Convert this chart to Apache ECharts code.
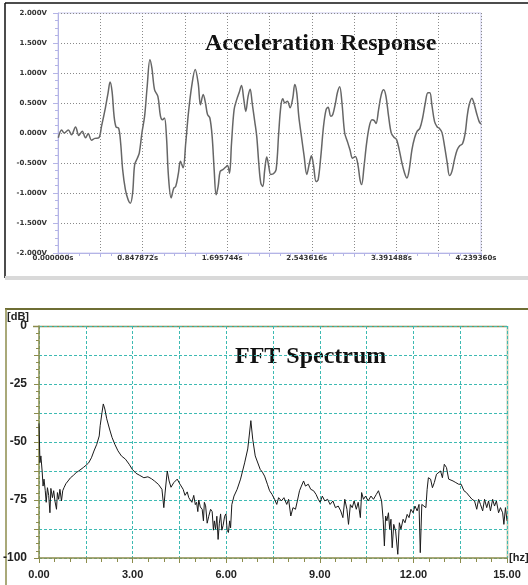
<!DOCTYPE html>
<html>
<head>
<meta charset="utf-8">
<script src="https://cdn.jsdelivr.net/npm/echarts@6/dist/echarts.min.js"></script>
<style>
  body { margin: 0; background: #fff; }
  #chart { position: absolute; left: 0; top: 0; width: 528px; height: 585px; }
</style>
</head>
<body>
<div id="chart"></div>
<script>
// acceleration response
var timeSec = [0.003, 0.037, 0.063, 0.103, 0.136, 0.176, 0.209, 0.243, 0.276, 0.303, 0.336, 0.369, 0.409,
  0.436, 0.475, 0.502, 0.522, 0.542, 0.562, 0.582, 0.608, 0.628, 0.648, 0.675, 0.702, 0.725, 0.748, 0.768,
  0.795, 0.815, 0.841, 0.868, 0.894, 0.921, 0.941, 0.968, 1.001, 1.027, 1.047, 1.067, 1.087, 1.107, 1.134,
  1.160, 1.180, 1.207, 1.227, 1.254, 1.280, 1.307, 1.340, 1.375, 1.405, 1.428, 1.455, 1.478, 1.498, 1.522,
  1.545, 1.565, 1.585, 1.605, 1.625, 1.652, 1.679, 1.699, 1.719, 1.739, 1.765, 1.792, 1.815, 1.839, 1.862,
  1.882, 1.905, 1.926, 1.946, 1.972, 1.992, 2.012, 2.032, 2.052, 2.072, 2.092, 2.113, 2.132, 2.159, 2.186,
  2.212, 2.233, 2.253, 2.273, 2.299, 2.326, 2.353, 2.373, 2.393, 2.413, 2.440, 2.467, 2.493, 2.520, 2.540,
  2.560, 2.587, 2.607, 2.634, 2.661, 2.687, 2.707, 2.734, 2.754, 2.781, 2.800, 2.823, 2.846, 2.873, 2.900,
  2.926, 2.953, 2.980, 3.006, 3.027, 3.043, 3.067, 3.093, 3.120, 3.147, 3.167, 3.187, 3.213, 3.240, 3.264,
  3.287, 3.313, 3.340, 3.367, 3.393, 3.420, 3.447, 3.474, 3.497, 3.520, 3.547, 3.574, 3.600, 3.627, 3.654,
  3.681, 3.707, 3.727, 3.747, 3.774, 3.801, 3.821, 3.848, 3.874, 3.901, 3.924, 3.948, 3.974, 4.001, 4.028,
  4.054, 4.081, 4.101, 4.121, 4.148, 4.168, 4.195, 4.221, 4.239];
var accelV = [-0.08, 0.05, 0.00, 0.05, -0.03, 0.10, -0.04, 0.03, -0.08, -0.01, -0.12, -0.09, -0.08,
  0.11, 0.42, 0.67, 0.85, 0.69, 0.28, 0.10, 0.08, -0.17, -0.61, -0.94, -1.11, -1.17, -1.00, -0.53,
  -0.42, -0.33, 0.00, 0.28, 0.78, 1.22, 1.08, 0.72, 0.61, 0.28, 0.22, 0.25, -0.06, -0.72, -1.08,
  -0.92, -0.89, -0.67, -0.47, -0.58, -0.17, 0.33, 0.78, 1.06, 0.83, 0.47, 0.64, 0.50, 0.31, 0.25,
  -0.06, -0.61, -1.03, -0.89, -0.64, -0.61, -0.57, -0.54, -0.67, -0.17, 0.39, 0.56, 0.67, 0.79, 0.56,
  0.36, 0.61, 0.73, 0.50, 0.19, -0.06, -0.50, -0.83, -0.89, -0.61, -0.40, -0.56, -0.69, -0.68, -0.61,
  0.00, 0.44, 0.57, 0.50, 0.53, 0.42, 0.58, 0.81, 0.67, 0.28, -0.06, -0.39, -0.69, -0.50, -0.38,
  -0.53, -0.81, -0.78, -0.39, 0.11, 0.39, 0.43, 0.28, 0.31, 0.50, 0.67, 0.77, 0.50, 0.00, -0.14,
  -0.28, -0.42, -0.39, -0.53, -0.78, -0.86, -0.56, -0.17, 0.11, 0.22, 0.21, 0.16, 0.39, 0.64, 0.72,
  0.61, 0.28, 0.00, -0.07, -0.11, -0.28, -0.50, -0.67, -0.75, -0.61, -0.28, -0.08, 0.03, 0.08, 0.25,
  0.50, 0.67, 0.67, 0.47, 0.19, 0.10, 0.08, 0.01, -0.22, -0.50, -0.71, -0.64, -0.44, -0.28, -0.21,
  -0.18, 0.00, 0.28, 0.47, 0.58, 0.50, 0.33, 0.19, 0.15];

// FFT spectrum
var freqHz = [0.00, 0.03, 0.06, 0.10, 0.13, 0.16, 0.20, 0.23, 0.27, 0.31, 0.35, 0.38, 0.43, 0.47, 0.51,
  0.56, 0.59, 0.63, 0.67, 0.72, 0.76, 0.80, 0.86, 0.93, 1.01, 1.10, 1.19, 1.27, 1.33, 1.42, 1.51, 1.59,
  1.68, 1.76, 1.85, 1.93, 1.96, 2.02, 2.06, 2.11, 2.17, 2.26, 2.34, 2.43, 2.53, 2.64, 2.77, 2.89, 2.99,
  3.11, 3.23, 3.36, 3.49, 3.60, 3.70, 3.83, 3.94, 4.00, 4.04, 4.11, 4.17, 4.23, 4.32, 4.43, 4.51,
  4.62, 4.68, 4.75, 4.80, 4.85, 4.90, 4.96, 5.01, 5.05, 5.09, 5.12, 5.17, 5.23, 5.27, 5.30, 5.34, 5.39,
  5.44, 5.50, 5.55, 5.59, 5.62, 5.66, 5.70, 5.74, 5.78, 5.82, 5.86, 5.90, 5.95, 5.99, 6.03, 6.07, 6.11,
  6.14, 6.18, 6.25, 6.35, 6.46, 6.59, 6.69, 6.74, 6.79, 6.85, 6.93, 7.09,
  7.16, 7.23, 7.32, 7.39, 7.47, 7.55, 7.62, 7.68, 7.77, 7.85, 7.94, 8.00, 8.07, 8.14, 8.22, 8.28, 8.35,
  8.41, 8.48, 8.54, 8.63, 8.71, 8.80, 8.88, 8.95, 9.01, 9.08, 9.16, 9.25, 9.33, 9.42, 9.50, 9.59, 9.67,
  9.74, 9.80, 9.87, 9.92, 9.98, 10.04, 10.10, 10.17, 10.23, 10.30, 10.34, 10.40, 10.47, 10.55, 10.64,
  10.72, 10.81, 10.88, 10.94, 10.98, 11.03, 11.07, 11.11, 11.15, 11.20, 11.24, 11.28, 11.32, 11.37,
  11.43, 11.50, 11.55, 11.60, 11.67, 11.73, 11.80, 11.86, 11.92, 11.99, 12.05, 12.12, 12.18, 12.22,
  12.27, 12.33, 12.40, 12.44, 12.48, 12.55, 12.61, 12.67, 12.74, 12.80, 12.87, 12.93, 12.99, 13.06,
  13.13, 13.19, 13.27, 13.36, 13.45, 13.53, 13.62, 13.70, 13.79, 13.88, 13.96, 14.03, 14.09, 14.15,
  14.22, 14.28, 14.35, 14.41, 14.47, 14.54, 14.60, 14.66, 14.73, 14.79, 14.86, 14.90, 14.95, 15.00];
var levelDb = [-42, -58.9, -56, -62.5, -69, -66, -71, -76, -69.7, -73, -80.5, -70, -74, -71, -75.4,
  -79, -71.8, -74.7, -70.4, -75.4, -71, -69.7, -68, -66.8, -65.4, -64.4, -63.2, -62.5, -63, -61, -60, -59,
  -56.8, -53.9, -51, -47.4, -43, -37.2, -33.6, -35.8, -40, -44.4, -48, -51, -53.8, -56, -57.4, -59.6, -61.8,
  -63.5, -64.4, -65.4, -65, -65.8, -66.8, -68.3, -70.4, -78.3, -72, -62.5, -66.8, -69.5, -67.5, -66, -68,
  -70.4, -73, -71.5, -74, -73.5, -76, -73, -77, -76, -80, -75, -78, -79, -84, -76, -77.5, -85,
  -82, -79, -80, -88, -84, -87.6, -82, -92, -85, -81, -88, -86, -82, -81, -88, -89, -84,
  -87, -77, -73.3, -70.4, -66, -59, -53, -47, -40.8, -48.8, -56, -61.8,
  -63, -64.7, -68.2, -71, -72.6, -74.7, -76.9, -74, -75.4, -74, -76.9, -74.7, -81.9, -78.3, -79, -75.4, -71,
  -69, -66.8, -69, -68.2, -70.4, -71, -72.6, -74.7, -76, -73.3, -75.4, -74.7, -76.9, -75.4, -78.3, -77.6, -79.7,
  -82.6, -74.7, -79, -85.5, -77, -78.3, -75.4, -79, -76, -82.6, -71.8, -74.7, -73.3, -75.4, -73.3,
  -74.7, -72.6, -71, -70.4, -75.4, -83.3, -94.8, -81.9, -84, -80.5, -87.6, -83.3, -95.6, -85.5,
  -88.4, -98.4, -84.8, -87.6, -83.3, -84.8, -81.2, -82.6, -79, -80.5, -77.6, -79.7, -76.9, -97.7,
  -76.9, -76.2, -78.3, -70.4, -65.4, -66, -69.7, -67.5, -63.9, -63.2, -62.5, -65.4, -59.6, -61,
  -66, -66, -66.8, -67.5, -68.2, -68.2, -71, -71.8, -73.3, -74.7, -75.4, -79, -74.7, -76.9,
  -79.7, -74.7, -78.3, -75.4, -79.7, -74.7, -77.6, -75.4, -80.5, -78.3, -80.5, -85.5, -78.3, -84];

var voltTickLabels = ['-2.000V', '-1.500V', '-1.000V', '-0.500V', '0.000V', '0.500V', '1.000V', '1.500V', '2.000V'];
var timeTickLabels = ['0.000000s', '0.847872s', '1.695744s', '2.543616s', '3.391488s', '4.239360s'];
var dbTickLabels = ['0', '-25', '-50', '-75', '-100'];
var hzTickLabels = ['0.00', '3.00', '6.00', '9.00', '12.00', '15.00'];

var timeStep = 0.423936;
var smallFont = 'DejaVu Sans';
var labelFont = '"Liberation Sans", Arial, sans-serif';
var lavender = '#b4b4e6';
var olive = '#8c8c4c';

var myChart = echarts.init(document.getElementById('chart'));
myChart.setOption({
  animation: false,
  backgroundColor: '#fff',
  grid: [
    {left: 58, top: 13, width: 423, height: 240, show: true, borderColor: '#cdcdf0', borderWidth: 1},
    {left: 38, top: 326, width: 469, height: 232}
  ],
  xAxis: [
    {
      gridIndex: 0, type: 'value', min: 0, max: 4.23936, interval: timeStep,
      axisLine: {show: true, onZero: false, lineStyle: {color: lavender}},
      axisTick: {show: true, length: 4, lineStyle: {color: lavender}},
      minorTick: {show: true, splitNumber: 4, length: 3, lineStyle: {color: lavender}},
      splitLine: {show: true, lineStyle: {color: '#8a8a8a', type: [1, 2]}},
      axisLabel: {
        margin: 2, fontSize: 7, fontWeight: 'bold', fontFamily: smallFont, color: '#333',
        padding: [0, 10, 0, 0],
        formatter: function (v) {
          var i = Math.round(v / timeStep);
          return i % 2 === 0 ? timeTickLabels[i / 2] : '';
        }
      }
    },
    {
      gridIndex: 1, type: 'value', min: 0, max: 15, interval: 1.5,
      axisLine: {show: true, onZero: false, lineStyle: {color: olive, width: 1.5}},
      axisTick: {show: true, length: 5, lineStyle: {color: olive}},
      minorTick: {show: true, splitNumber: 3, length: 4, lineStyle: {color: olive}},
      splitLine: {show: true, lineStyle: {color: '#3dbab2', type: [3, 2]}},
      axisLabel: {
        margin: 11, fontSize: 11, fontWeight: 'bold', fontFamily: labelFont, color: '#222',
        formatter: function (v) {
          var i = Math.round(v / 1.5);
          return i % 2 === 0 ? hzTickLabels[i / 2] : '';
        }
      }
    }
  ],
  yAxis: [
    {
      gridIndex: 0, type: 'value', min: -2, max: 2, interval: 0.5,
      axisLine: {show: true, onZero: false, lineStyle: {color: lavender}},
      axisTick: {show: true, length: 5, lineStyle: {color: lavender}},
      minorTick: {show: true, splitNumber: 4, length: 3, lineStyle: {color: lavender}},
      splitLine: {show: true, lineStyle: {color: '#8a8a8a', type: [1, 2]}},
      axisLabel: {
        margin: 11, fontSize: 7, fontWeight: 'bold', fontFamily: smallFont, color: '#333',
        formatter: function (v) {
          return voltTickLabels[Math.round((v + 2) / 0.5)];
        }
      }
    },
    {
      gridIndex: 1, type: 'value', min: -100, max: 0, interval: 12.5,
      axisLine: {show: true, onZero: false, lineStyle: {color: olive, width: 1.5}},
      axisTick: {show: true, length: 5, lineStyle: {color: olive}},
      minorTick: {show: true, splitNumber: 4, length: 3, lineStyle: {color: olive}},
      splitLine: {show: true, lineStyle: {color: '#3dbab2', type: [3, 2]}},
      axisLabel: {
        margin: 12, fontSize: 12, fontWeight: 'bold', fontFamily: labelFont, color: '#222',
        padding: [7, 0, 0, 0],
        formatter: function (v) {
          var i = Math.round(-v / 12.5);
          return i % 2 === 0 ? dbTickLabels[i / 2] : '';
        }
      }
    }
  ],
  series: [
    {
      type: 'line', xAxisIndex: 0, yAxisIndex: 0, showSymbol: false, smooth: 0.35,
      lineStyle: {color: '#666', width: 1.5},
      data: timeSec.map(function (t, i) { return [t, accelV[i]] })
    },
    {
      type: 'line', xAxisIndex: 1, yAxisIndex: 1, showSymbol: false,
      lineStyle: {color: '#1a1a1a', width: 1},
      data: freqHz.map(function (f, i) { return [f, levelDb[i]] })
    }
  ],
  graphic: [
    // top panel frame
    {type: 'line', shape: {x1: 5, y1: 3, x2: 528, y2: 3}, style: {stroke: '#111', lineWidth: 1.5}},
    {type: 'line', shape: {x1: 5, y1: 3, x2: 5, y2: 278}, style: {stroke: '#111', lineWidth: 1.5}},
    {type: 'rect', shape: {x: 5, y: 276, width: 523, height: 4}, style: {fill: '#d9d9d9'}},
    {type: 'text', style: {text: 'Acceleration Response', x: 205, y: 44, textVerticalAlign: 'middle',
      font: 'bold 24px "Liberation Serif", serif', fill: '#111'}},
    // bottom panel frame
    {type: 'line', shape: {x1: 5, y1: 309, x2: 528, y2: 309}, style: {stroke: '#6e6e34', lineWidth: 2}},
    {type: 'line', shape: {x1: 6, y1: 309, x2: 6, y2: 585}, style: {stroke: olive, lineWidth: 1.5}},
    {type: 'line', shape: {x1: 33, y1: 326.5, x2: 507, y2: 326.5}, style: {stroke: olive, lineWidth: 1.5}},
    {type: 'line', shape: {x1: 507.5, y1: 326, x2: 507.5, y2: 558}, style: {stroke: '#cfcfb4', lineWidth: 2}},
    {type: 'text', style: {text: '[dB]', x: 7, y: 317, textVerticalAlign: 'middle',
      font: 'bold 11px ' + labelFont, fill: '#222'}},
    {type: 'text', style: {text: '[hz]', x: 509, y: 558, textVerticalAlign: 'middle',
      font: 'bold 11px ' + labelFont, fill: '#222'}},
    {type: 'text', style: {text: 'FFT Spectrum', x: 235, y: 357, textVerticalAlign: 'middle',
      font: 'bold 24px "Liberation Serif", serif', fill: '#111'}}
  ]
});
</script>
</body>
</html>
